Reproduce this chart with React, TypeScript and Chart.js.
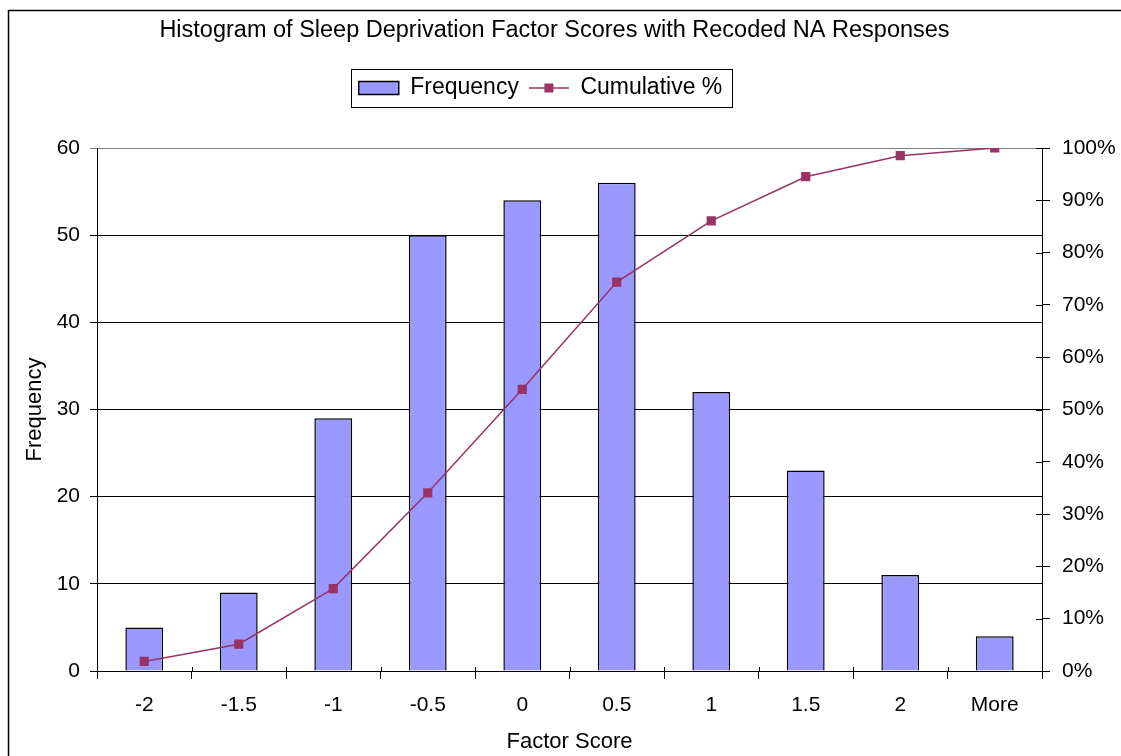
import React, { useEffect, useRef } from 'react';
import { Chart, registerables } from 'chart.js';

Chart.register(...registerables);

const categories = ['-2', '-1.5', '-1', '-0.5', '0', '0.5', '1', '1.5', '2', 'More'];
const frequency = [5, 9, 29, 50, 54, 56, 32, 23, 11, 4];
const cumulativePct = [1.83, 5.13, 15.75, 34.07, 53.85, 74.36, 86.08, 94.51, 98.53, 100];
const leftMin = 0;
const leftMax = 60;
const leftStep = 10;
const rightMin = 0;
const rightMax = 100;
const rightStep = 10;

const FONT = "'Liberation Sans', Arial, sans-serif";
const BAR_FILL = '#9999FF';
const LINE_COLOR = '#993366';

const decorPlugin = {
  id: 'decor',
  afterLayout(chart: any) {
    const lg = chart.legend;
    if (lg) {
      lg.left -= 20;
      lg.right -= 20;
    }
    const tb = chart.titleBlock;
    if (tb) {
      tb.left -= 6;
      tb.right -= 6;
    }
  },
  beforeDraw(chart: any) {
    const ctx = chart.ctx;
    ctx.save();
    ctx.strokeStyle = '#000';
    ctx.lineWidth = 1.5;
    ctx.beginPath();
    ctx.moveTo(8.5, chart.height + 2);
    ctx.lineTo(8.5, 10.5);
    ctx.lineTo(chart.width + 2, 10.5);
    ctx.stroke();
    ctx.restore();
  },
  afterDraw(chart: any) {
    const ctx = chart.ctx;
    const ca = chart.chartArea;
    ctx.save();
    ctx.strokeStyle = '#000';
    ctx.lineWidth = 1;
    const n = categories.length;
    ctx.beginPath();
    for (let i = 0; i <= n; i++) {
      const x = Math.round(ca.left + (i * (ca.right - ca.left)) / n) + 0.5;
      ctx.moveTo(x, ca.bottom - 4);
      ctx.lineTo(x, ca.bottom);
    }
    const y1 = chart.scales.y1;
    y1.ticks.forEach((t: any) => {
      const y = Math.round(y1.getPixelForValue(t.value)) + 0.5;
      ctx.moveTo(ca.right - 6, y);
      ctx.lineTo(ca.right, y);
    });
    ctx.stroke();

    const legend = chart.legend;
    const hbs = legend.legendHitBoxes;
    if (hbs && hbs.length === 2) {
      const hb0 = hbs[0];
      const hb1 = hbs[1];
      const cy = hb1.top + hb1.height / 2;
      ctx.strokeStyle = LINE_COLOR;
      ctx.lineWidth = 1.5;
      ctx.beginPath();
      ctx.moveTo(hb1.left, cy);
      ctx.lineTo(hb1.left + 40, cy);
      ctx.stroke();
      ctx.fillStyle = LINE_COLOR;
      ctx.fillRect(hb1.left + 20 - 4.5, cy - 4.5, 9, 9);
      ctx.strokeStyle = '#000';
      ctx.lineWidth = 1;
      const l = Math.round(hb0.left - 8) + 0.5;
      const r = Math.round(hb1.left + hb1.width + 10) + 0.5;
      const t = Math.round(cy - 19) + 0.5;
      const b = Math.round(cy + 19) + 0.5;
      ctx.strokeRect(l, t, r - l, b - t);
    }
    ctx.restore();
  },
};

export default function App() {
  const ref = useRef<HTMLCanvasElement>(null);
  useEffect(() => {
    if (!ref.current) return;
    const chart = new Chart(ref.current, {
      type: 'bar',
      data: {
        labels: categories,
        datasets: [
          {
            type: 'line',
            label: 'Cumulative %',
            data: cumulativePct,
            yAxisID: 'y1',
            borderColor: LINE_COLOR,
            backgroundColor: LINE_COLOR,
            borderWidth: 1.5,
            pointStyle: 'rect',
            pointRadius: 6.5,
            pointBackgroundColor: LINE_COLOR,
            pointBorderColor: LINE_COLOR,
            pointBorderWidth: 0,
            tension: 0,
            order: 0,
          } as any,
          {
            type: 'bar',
            label: 'Frequency',
            data: frequency,
            yAxisID: 'y',
            backgroundColor: BAR_FILL,
            borderColor: '#000',
            borderWidth: 1.5,
            barPercentage: 0.4,
            categoryPercentage: 1.0,
            order: 1,
          } as any,
        ],
      },
      options: {
        responsive: false,
        animation: false,
        layout: { padding: 0 },
        plugins: {
          tooltip: { enabled: false },
          title: {
            display: true,
            text: 'Histogram of Sleep Deprivation Factor Scores with Recoded NA Responses',
            color: '#000',
            font: { family: FONT, size: 23.5, weight: 'normal', lineHeight: 1.2 },
            padding: { top: 16, bottom: 22.3 },
          },
          subtitle: {
            display: true,
            text: '',
            weight: 500,
            font: { family: FONT, size: 10, lineHeight: 1.2 },
            padding: { top: 26.5, bottom: 0 },
          } as any,
          legend: {
            display: true,
            position: 'top',
            reverse: true,
            labels: {
              color: '#000',
              font: { family: FONT, size: 23 },
              boxWidth: 40,
              boxHeight: 13,
              padding: 10,
              generateLabels: (c: any) => {
                const items = Chart.defaults.plugins.legend.labels.generateLabels(c);
                items.forEach((it: any) => {
                  if (it.text === 'Cumulative %') {
                    it.fillStyle = 'rgba(0,0,0,0)';
                    it.strokeStyle = 'rgba(0,0,0,0)';
                    it.lineWidth = 0;
                  } else {
                    it.lineWidth = 1.5;
                    it.strokeStyle = '#000';
                  }
                });
                return items;
              },
            },
          },
        },
        scales: {
          x: {
            type: 'category',
            offset: true,
            afterFit: (s: any) => { s.height = 85; },
            grid: {
              offset: true,
              drawOnChartArea: false,
              drawTicks: true,
              tickLength: 8,
              color: '#000',
              lineWidth: 1,
            },
            border: { display: true, color: '#000', width: 1 },
            ticks: {
              color: '#000',
              font: { family: FONT, size: 21 },
              padding: 14,
              maxRotation: 0,
            },
            title: {
              display: true,
              text: 'Factor Score',
              color: '#000',
              font: { family: FONT, size: 22, lineHeight: 1.2 },
              padding: { top: 0, bottom: 1 },
            },
          },
          y: {
            type: 'linear',
            position: 'left',
            min: leftMin,
            max: leftMax,
            afterFit: (s: any) => { s.width = 97; },
            grid: {
              drawOnChartArea: true,
              drawTicks: true,
              tickLength: 7,
              color: (ctx: any) => (ctx.tick && ctx.tick.value === leftMax ? '#808080' : '#000'),
              lineWidth: 1,
            },
            border: { display: true, color: '#000', width: 1 },
            ticks: {
              stepSize: leftStep,
              color: '#000',
              font: { family: FONT, size: 21 },
              padding: 10,
            },
            title: {
              display: true,
              text: 'Frequency',
              color: '#000',
              font: { family: FONT, size: 22, lineHeight: 1.2 },
              padding: { top: 22, bottom: 0 },
            },
          },
          y1: {
            type: 'linear',
            position: 'right',
            min: rightMin,
            max: rightMax,
            afterFit: (s: any) => { s.width = 79; },
            grid: {
              drawOnChartArea: false,
              drawTicks: true,
              tickLength: 8,
              color: '#000',
              lineWidth: 1,
            },
            border: { display: true, color: '#000', width: 1 },
            ticks: {
              stepSize: rightStep,
              color: '#000',
              font: { family: FONT, size: 21 },
              padding: 12,
              callback: (v: any) => `${v}%`,
            },
          },
        },
      },
      plugins: [decorPlugin],
    });
    return () => chart.destroy();
  }, []);
  return (
    <div style={{ position: 'fixed', left: 0, top: 0, width: 1121, height: 756, background: '#fff' }}>
      <canvas ref={ref} width={1121} height={756} />
    </div>
  );
}
